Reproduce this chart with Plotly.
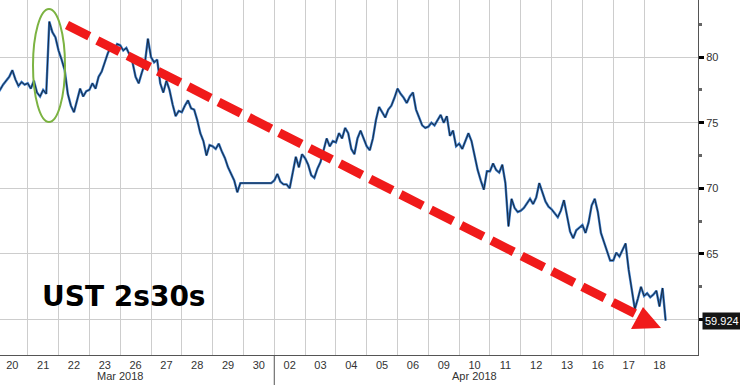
import numpy as np
import plotly.graph_objects as go

# ---- data -------------------------------------------------------------
day_labels = ["20", "21", "22", "23", "26", "27", "28", "29", "30",
              "02", "03", "04", "05", "06", "09", "10", "11", "12", "13", "16", "17", "18"]
month_labels = ["Mar 2018", "Apr 2018"]
month_label_pos = [4.0, 15.5]          # day-index positions of month captions
month_break = 9                         # index where April begins
points_per_day = 10

ust_2s30s = [
    # 20 Mar
    77.7, 77.5, 77.9, 78.2, 78.5, 79.0, 78.3, 77.8, 78.1, 77.9,
    # 21
    78.0, 77.6, 78.2, 77.3, 77.0, 77.5, 77.2, 82.7, 81.9, 81.5,
    # 22
    80.5, 79.8, 79.0, 77.2, 76.3, 75.8, 76.8, 77.6, 77.0, 77.4,
    # 23
    77.5, 78.0, 77.6, 78.5, 78.9, 79.6, 80.3, 80.8, 80.5, 81.0,
    # 26
    80.9, 80.5, 80.7, 80.2, 79.6, 78.5, 78.0, 78.8, 79.5, 81.4,
    # 27
    80.0, 79.6, 79.8, 78.0, 77.3, 78.2, 77.5, 76.4, 75.5, 75.9,
    # 28
    75.8, 76.3, 76.7, 76.1, 76.0, 75.2, 74.2, 73.6, 72.5, 73.3,
    # 29
    73.2, 73.0, 73.4, 72.8, 72.3, 71.6, 71.1, 70.6, 69.7, 70.4,
    # 30 (holiday, flat)
    70.4, 70.4, 70.4, 70.4, 70.4, 70.4, 70.4, 70.4, 70.4, 70.4,
    # 02 Apr
    70.6, 71.1, 70.5, 70.3, 70.3, 70.0, 71.2, 72.4, 71.6, 72.6,
    # 03
    72.3, 71.8, 71.0, 70.8, 71.5, 72.0, 72.9, 73.8, 73.2, 73.6,
    # 04
    73.5, 74.2, 73.8, 74.6, 74.2, 73.0, 72.6, 73.8, 74.4, 73.8,
    # 05
    73.2, 72.9, 73.8, 75.2, 76.2, 75.8, 75.4, 76.0, 76.3, 76.9,
    # 06
    77.6, 77.2, 76.9, 76.5, 77.0, 77.3, 76.0, 75.4, 74.8, 74.6,
    # 09
    74.7, 75.0, 74.8, 75.2, 75.6, 75.0, 75.5, 74.0, 74.4, 73.2,
    # 10
    73.4, 73.0, 73.6, 74.2, 73.6, 72.4, 71.4, 70.6, 69.9, 71.3,
    # 11
    71.3, 71.9, 71.4, 71.2, 71.8, 70.4, 67.1, 69.2, 68.5, 68.2,
    # 12
    68.3, 68.5, 68.9, 69.2, 68.8, 69.3, 70.4, 69.7, 69.0, 68.6,
    # 13
    68.4, 68.1, 67.8, 68.3, 69.1, 67.9, 66.7, 66.2, 66.8, 67.0,
    # 16
    67.2, 66.6, 67.4, 68.7, 69.2, 68.2, 66.6, 65.9, 65.1, 64.5,
    # 17
    64.5, 65.1, 64.8, 65.3, 65.8, 63.8, 62.2, 60.8, 61.6, 62.5,
    # 18
    61.8, 62.0, 61.7, 61.9, 62.2, 61.0, 62.4, 59.924,
]

y_tick_vals = [60, 65, 70, 75, 80]
y_tick_text = ["", "65", "70", "75", "80"]
y_minor_vals = [62.5, 67.5, 72.5, 77.5, 82.5]
last_value = ust_2s30s[-1]
title_text = "UST 2s30s"

# ---- figure -----------------------------------------------------------
W, H = 740, 385
ML, MR, MT, MB = 0, 42, 0, 30
PW, PH = W - ML - MR, H - MT - MB

x_vals = np.arange(len(ust_2s30s)) / points_per_day
n_days = len(day_labels)
GRID = "#cdcdcd"

fig = go.Figure()
fig.add_trace(go.Scatter(x=x_vals, y=ust_2s30s, mode="lines",
                         line=dict(color="#3576c4", width=2.4), hoverinfo="skip"))
fig.add_trace(go.Scatter(x=x_vals, y=ust_2s30s, mode="lines",
                         line=dict(color="#10161f", width=0.8), hoverinfo="skip"))


def px(xp):
    return xp / PW


def py(yp):
    return 1 - yp / PH


shapes = []
# month separator (extends below the axis)
shapes.append(dict(type="line", xref="x", yref="paper", x0=month_break, x1=month_break,
                   y0=0, y1=-0.085, line=dict(color="#555", width=1)))
# green ellipse
shapes.append(dict(type="circle", xref="paper", yref="paper",
                   x0=px(33), x1=px(65), y0=py(122), y1=py(9),
                   line=dict(color="#7cb342", width=2)))
# red dashed arrow
shapes.append(dict(type="line", xref="paper", yref="paper",
                   x0=px(67), y0=py(25), x1=px(636), y1=py(314),
                   line=dict(color="#f01a1a", width=9, dash="25px,9px")))
shapes.append(dict(type="path", xref="paper", yref="paper",
                   path=f"M {px(643)},{py(307)} L {px(661)},{py(328)} L {px(631)},{py(329)} Z",
                   fillcolor="#f01a1a", line=dict(width=0)))

annotations = []
for lbl, pos in zip(month_labels, month_label_pos):
    annotations.append(dict(x=pos, y=-0.036, xref="x", yref="paper", text=lbl,
                            showarrow=False, yanchor="top",
                            font=dict(family="Liberation Sans", size=11, color="#333")))
annotations.append(dict(x=px(40), y=py(296), xref="paper", yref="paper",
                        text=f"<b>{title_text}</b>", showarrow=False,
                        xanchor="left", yanchor="middle",
                        font=dict(family="DejaVu Sans", size=28, color="#000")))
annotations.append(dict(x=1, y=last_value, xref="paper", yref="y",
                        text=f"{last_value:.3f}", showarrow=False,
                        xanchor="left", yanchor="middle", xshift=4,
                        bgcolor="#151515", borderpad=2,
                        font=dict(family="Liberation Sans", size=11, color="#fff")))

fig.update_layout(
    width=W, height=H,
    margin=dict(l=ML, r=MR, t=MT, b=MB),
    paper_bgcolor="white", plot_bgcolor="white",
    showlegend=False,
    shapes=shapes,
    annotations=annotations,
    xaxis=dict(
        range=[0.1, 22.75],
        tickmode="array",
        tickvals=[i + 0.5 for i in range(n_days)],
        ticktext=day_labels,
        ticks="", showgrid=False, zeroline=False,
        showline=True, linecolor="#555", linewidth=1,
        tickfont=dict(family="Liberation Sans", size=11, color="#333"),
        minor=dict(tickmode="array", tickvals=list(range(1, n_days)),
                   showgrid=True, gridcolor=GRID, gridwidth=1, ticks=""),
    ),
    yaxis=dict(
        side="right",
        range=[57.3, 84.35],
        tickmode="array",
        tickvals=y_tick_vals,
        ticktext=y_tick_text,
        ticks="outside", ticklen=5, tickwidth=3, tickcolor="#000",
        showgrid=True, gridcolor=GRID, gridwidth=1,
        zeroline=False,
        showline=True, linecolor="#555", linewidth=1,
        tickfont=dict(family="Liberation Sans", size=11, color="#333"),
        minor=dict(tickmode="array", tickvals=y_minor_vals, ticks="outside",
                   ticklen=3, tickcolor="#666", showgrid=False),
    ),
)

fig.write_html("out.html")
